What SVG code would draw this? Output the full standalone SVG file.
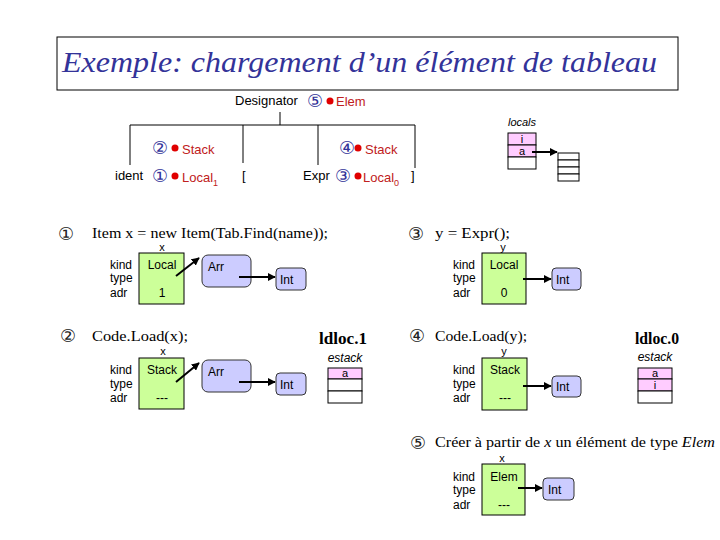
<svg xmlns="http://www.w3.org/2000/svg" width="720" height="540" viewBox="0 0 720 540">
<defs>
<marker id="ah" viewBox="0 0 10 10" refX="9" refY="5" markerWidth="4" markerHeight="4" orient="auto" markerUnits="strokeWidth"><path d="M0,0 L10,5 L0,10 z" fill="#000"/></marker>
<style>
.s{font-family:"Liberation Sans",Arial,sans-serif;font-size:12px;fill:#000}
.x{font-family:"Liberation Sans",Arial,sans-serif;font-size:11px;fill:#000;text-anchor:middle}
.c{font-family:"Liberation Serif","Times New Roman",serif;font-size:15px;fill:#000}
.n{font-family:"DejaVu Sans",sans-serif;font-size:18px;text-anchor:middle}
.r{font-family:"Liberation Sans",Arial,sans-serif;font-size:13px;fill:#c02020}
.t{font-family:"Liberation Sans",Arial,sans-serif;font-size:13px;fill:#000}
.g{fill:#ccff99;stroke:#000;stroke-width:1}
.v{fill:#ccccff;stroke:#333;stroke-width:1}
.p{fill:#ffccff;stroke:#000;stroke-width:1}
.w{fill:#fff;stroke:#000;stroke-width:1}
.l{stroke:#000;stroke-width:1;fill:none}
.a{stroke:#000;stroke-width:2;fill:none;marker-end:url(#ah)}
.m{text-anchor:middle}
</style>
</defs>
<rect width="720" height="540" fill="#fff"/>
<g id="title">
<rect x="57" y="37" width="621" height="53" fill="#fff" stroke="#000" stroke-width="1"/>
<text x="62" y="72" font-family="Liberation Serif,Times New Roman,serif" font-style="italic" font-size="30" fill="#333399" textLength="595" lengthAdjust="spacingAndGlyphs">Exemple: chargement d’un élément de tableau</text>
</g>
<g id="tree-lines">
<path class="l" d="M280,112 V125 M130,125 H415 M130,125 V165 M243,125 V163 M318,125 V165 M415,125 V168"/>
</g>
<g id="designator">
<text class="t" x="235" y="105">Designator</text>
<text class="n" x="315" y="107" fill="#333399">⑤</text>
<circle cx="330" cy="101" r="3.5" fill="#e00000"/>
<text class="r" x="336" y="106">Elem</text>
</g>
<g id="ident">
<text class="n" x="160" y="154" fill="#333399">②</text>
<circle cx="175" cy="148" r="3.5" fill="#e00000"/>
<text class="r" x="182" y="154">Stack</text>
<text class="t" x="115" y="180">ident</text>
<text class="n" x="160" y="182" fill="#333399">①</text>
<circle cx="175" cy="176" r="3.5" fill="#e00000"/>
<text class="r" x="182" y="182">Local<tspan font-size="9" dy="4">1</tspan></text>
</g>
<g id="lbracket"><text class="t" x="242" y="180">[</text></g>
<g id="expr">
<text class="n" x="347" y="154" fill="#333399">④</text>
<circle cx="358" cy="148" r="3.5" fill="#e00000"/>
<text class="r" x="365" y="154">Stack</text>
<text class="t" x="303" y="180">Expr</text>
<text class="n" x="343" y="182" fill="#333399">③</text>
<circle cx="358" cy="176" r="3.5" fill="#e00000"/>
<text class="r" x="363" y="182">Local<tspan font-size="9" dy="4">0</tspan></text>
</g>
<g id="rbracket"><text class="t" x="411" y="180">]</text></g>
<g id="locals">
<text x="522" y="126" class="m" font-family="Liberation Sans,Arial,sans-serif" font-style="italic" font-size="11">locals</text>
<rect class="p" x="508" y="133" width="28" height="12"/>
<rect class="p" x="508" y="145" width="28" height="12"/>
<rect class="w" x="508" y="157" width="28" height="12"/>
<text class="x" x="522" y="143" font-size="10">i</text>
<text class="x" x="522" y="155" font-size="10">a</text>
</g>
<g id="array">
<rect class="w" x="558" y="153" width="21" height="7"/>
<rect class="w" x="558" y="160" width="21" height="7"/>
<rect class="w" x="558" y="167" width="21" height="7"/>
<rect class="w" x="558" y="174" width="21" height="7"/>
</g>
<g id="sec1">
<text class="n" x="66" y="240" fill="#222">①</text>
<text class="c" x="92" y="238" textLength="236" lengthAdjust="spacingAndGlyphs">Item x = new Item(Tab.Find(name));</text>
<text class="x" x="162" y="251">x</text>
<text class="s" x="110" y="269">kind</text>
<text class="s" x="110" y="282">type</text>
<text class="s" x="110" y="297">adr</text>
<rect class="g" x="139" y="253" width="45" height="51"/>
<text class="s m" x="162" y="269">Local</text>
<text class="s m" x="162" y="297">1</text>
</g>
<g id="arr1"><rect class="v" x="202" y="255" width="49" height="32" rx="6"/><text class="s" x="208" y="271">Arr</text></g>
<g id="int1"><rect class="v" x="276" y="268" width="30" height="22" rx="4"/><text class="s" x="280" y="284">Int</text></g>
<g id="sec3">
<text class="n" x="416" y="240" fill="#222">③</text>
<text class="c" x="435" y="238" textLength="75" lengthAdjust="spacingAndGlyphs">y = Expr();</text>
<text class="x" x="503" y="251">y</text>
<text class="s" x="453" y="269">kind</text>
<text class="s" x="453" y="282">type</text>
<text class="s" x="453" y="297">adr</text>
<rect class="g" x="482" y="253" width="44" height="51"/>
<text class="s m" x="504" y="269">Local</text>
<text class="s m" x="504" y="297">0</text>
</g>
<g id="int3"><rect class="v" x="552" y="268" width="29" height="22" rx="4"/><text class="s" x="556" y="284">Int</text></g>
<g id="sec2">
<text class="n" x="68" y="342" fill="#222">②</text>
<text class="c" x="92" y="341" textLength="96" lengthAdjust="spacingAndGlyphs">Code.Load(x);</text>
<text x="319" y="344" font-family="Liberation Serif,Times New Roman,serif" font-weight="bold" font-size="16" textLength="48" lengthAdjust="spacingAndGlyphs">ldloc.1</text>
<text class="x" x="163" y="355">x</text>
<text x="345" y="362" class="m" font-family="Liberation Sans,Arial,sans-serif" font-style="italic" font-size="12">estack</text>
<rect class="p" x="328" y="368" width="34" height="11"/>
<rect class="w" x="328" y="379" width="34" height="12"/>
<rect class="w" x="328" y="391" width="34" height="12"/>
<text class="x" x="345" y="377" font-size="10">a</text>
<text class="s" x="110" y="374">kind</text>
<text class="s" x="110" y="388">type</text>
<text class="s" x="110" y="402">adr</text>
<rect class="g" x="139" y="358" width="45" height="51"/>
<text class="s m" x="162" y="374">Stack</text>
<text class="s m" x="162" y="402">---</text>
</g>
<g id="arr2"><rect class="v" x="202" y="360" width="49" height="32" rx="6"/><text class="s" x="208" y="376">Arr</text></g>
<g id="int2"><rect class="v" x="276" y="373" width="30" height="22" rx="4"/><text class="s" x="280" y="389">Int</text></g>
<g id="sec4">
<text class="n" x="417" y="342" fill="#222">④</text>
<text class="c" x="435" y="341" textLength="92" lengthAdjust="spacingAndGlyphs">Code.Load(y);</text>
<text x="635" y="344" font-family="Liberation Serif,Times New Roman,serif" font-weight="bold" font-size="16" textLength="44" lengthAdjust="spacingAndGlyphs">ldloc.0</text>
<text class="x" x="504" y="355">y</text>
<text x="655" y="361" class="m" font-family="Liberation Sans,Arial,sans-serif" font-style="italic" font-size="12">estack</text>
<rect class="p" x="638" y="368" width="34" height="11"/>
<rect class="p" x="638" y="379" width="34" height="12"/>
<rect class="w" x="638" y="391" width="34" height="12"/>
<text class="x" x="655" y="377" font-size="10">a</text>
<text class="x" x="655" y="389" font-size="10">i</text>
<text class="s" x="453" y="374">kind</text>
<text class="s" x="453" y="388">type</text>
<text class="s" x="453" y="402">adr</text>
<rect class="g" x="482" y="358" width="45" height="52"/>
<text class="s m" x="505" y="374">Stack</text>
<text class="s m" x="505" y="402">---</text>
</g>
<g id="int4"><rect class="v" x="552" y="376" width="29" height="21" rx="4"/><text class="s" x="556" y="391">Int</text></g>
<g id="sec5">
<text class="n" x="418" y="449" fill="#222">⑤</text>
<text class="c" x="435" y="447" textLength="280" lengthAdjust="spacingAndGlyphs">Créer à partir de <tspan font-style="italic">x</tspan> un  élément de type <tspan font-style="italic">Elem</tspan></text>
<text class="x" x="502" y="462">x</text>
<text class="s" x="453" y="481">kind</text>
<text class="s" x="453" y="494">type</text>
<text class="s" x="453" y="509">adr</text>
<rect class="g" x="482" y="464" width="43" height="51"/>
<text class="s m" x="504" y="481">Elem</text>
<text class="s m" x="504" y="509">---</text>
</g>
<g id="int5"><rect class="v" x="543" y="478" width="31" height="22" rx="4"/><text class="s" x="548" y="494">Int</text></g>
<g id="connectors">
<path class="a" d="M532,152 H557"/>
<path class="a" d="M176,276 L199,258"/>
<path class="a" d="M239,277 H275"/>
<path class="a" d="M523,279 H551"/>
<path class="a" d="M176,382 L199,363"/>
<path class="a" d="M239,382 H275"/>
<path class="a" d="M523,386 H551"/>
<path class="a" d="M518,488 H542"/>
</g>
</svg>
